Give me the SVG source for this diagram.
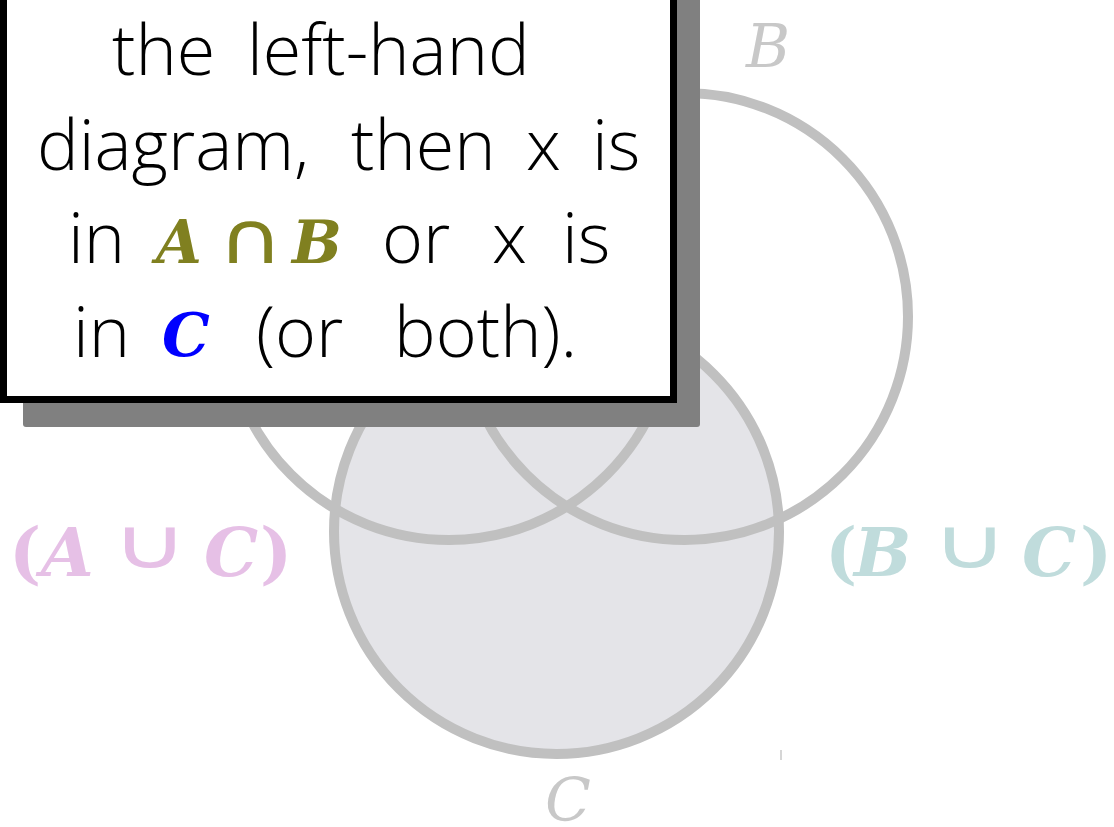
<svg xmlns="http://www.w3.org/2000/svg" width="1114" height="827" viewBox="0 0 1114 827">
<style>
.ring{fill:none;stroke:#c0c0c0;stroke-width:10}
.hand{font-family:"Open Sans","Liberation Sans",sans-serif;font-weight:300;font-size:70px;fill:#000}
.mi{font-family:"DejaVu Serif",serif;font-style:italic;font-weight:bold}
.op{font-family:"DejaVu Sans",sans-serif;font-style:normal;font-weight:normal;text-anchor:middle}
.par{font-family:"DejaVu Serif",serif;font-weight:bold;font-style:normal}
.lbl{font-family:"DejaVu Serif",serif;font-style:italic;font-size:60px;fill:#c8c8c8}
</style>
<g id="venn">
  <circle id="C-fill" cx="556.5" cy="531.5" r="222.5" fill="#e4e4e8"/>
  <circle id="A" class="ring" cx="449" cy="316.5" r="223.5"/>
  <circle id="B" class="ring" cx="684.5" cy="316.5" r="223.5"/>
  <circle id="C" class="ring" cx="556.5" cy="531.5" r="222.5"/>
</g>
<g id="label-B"><text class="lbl" x="746" y="67">B</text></g>
<g id="label-C"><text class="lbl" x="545" y="821">C</text></g>
<line x1="781" y1="750" x2="781" y2="760" stroke="#c8c8c8" stroke-width="1.5"/>
<g id="label-AuC" fill="#e6c0e6" font-size="68">
  <text class="par" x="9" y="576">(</text>
  <text class="mi" x="41" y="576">A</text>
  <text class="op" font-size="70" transform="translate(150,568) scale(1.5,1)">∪</text>
  <text class="mi" x="204" y="576">C</text>
  <text class="par" x="260" y="576">)</text>
</g>
<g id="label-BuC" fill="#c0dcdc" font-size="68">
  <text class="par" x="825" y="576">(</text>
  <text class="mi" x="854" y="576">B</text>
  <text class="op" font-size="70" transform="translate(970,568) scale(1.5,1)">∪</text>
  <text class="mi" x="1022" y="576">C</text>
  <text class="par" x="1080" y="576">)</text>
</g>
<g id="callout">
  <rect x="23" y="-10" width="677" height="437" rx="3" fill="#808080"/>
  <rect x="3.5" y="-10" width="670" height="409.5" fill="#fff" stroke="#000" stroke-width="7"/>
  <text class="hand" y="75"><tspan x="112">the</tspan><tspan x="247">left-hand</tspan></text>
  <text class="hand" y="170"><tspan x="37">diagram,</tspan><tspan x="351">then</tspan><tspan x="526">x</tspan><tspan x="592">is</tspan></text>
  <text class="hand" y="263"><tspan x="68">in</tspan><tspan x="382">or</tspan><tspan x="492">x</tspan><tspan x="562">is</tspan></text>
  <text class="mi" fill="#808020" font-size="59" x="156" y="263">A</text>
  <text class="op" fill="#808020" font-size="72" transform="translate(251,263) scale(1.25,1)">∩</text>
  <text class="mi" fill="#808020" font-size="59" x="292" y="263">B</text>
  <text class="hand" y="357"><tspan x="73">in</tspan><tspan x="256">(or</tspan><tspan x="394">both).</tspan></text>
  <text class="mi" fill="#0000ff" font-size="60" x="162" y="356">C</text>
</g>
</svg>
